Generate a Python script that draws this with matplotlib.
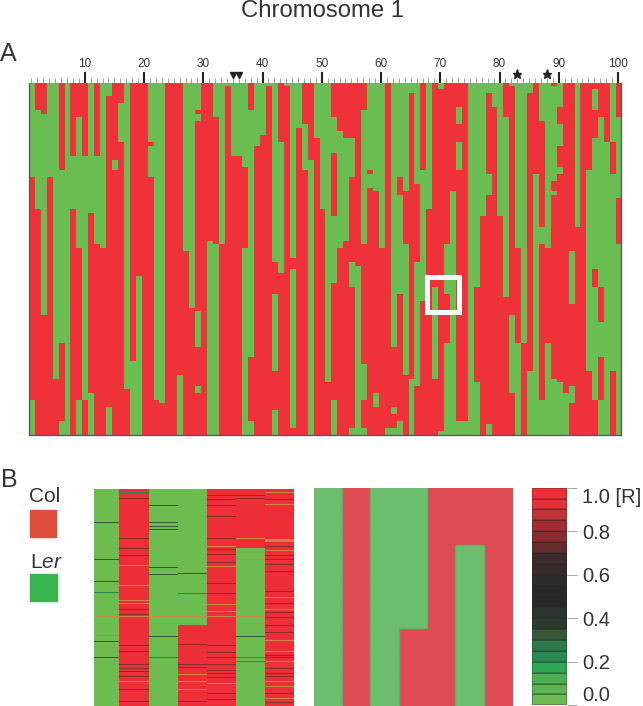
import numpy as np
import matplotlib
matplotlib.use("Agg")
import matplotlib.pyplot as plt
from matplotlib.colors import ListedColormap
from matplotlib.patches import Rectangle

plt.rcParams["font.family"] = ["Liberation Sans", "DejaVu Sans"]
plt.rcParams["mathtext.fontset"] = "custom"
plt.rcParams["mathtext.it"] = "Liberation Sans:italic"
plt.rcParams["mathtext.rm"] = "Liberation Sans"

W, H = 643, 706
RED = "#EF3239"
GREEN = "#6ABD50"
TEXT = "#333333"

# panel A: first genotype of each marker, then the rows where it flips
col_first = list("GRRGGRGRRR" "GRGGRRGRRR" "GGGRRRGGGR" "RGGGGGGRGG"
                 "GGRGGGRRGG" "GRRRRRRGGG" "RGGGGGRGRG" "RRRRGGGGGG"
                 "RGGGGRGGRG" "RRGRRRRRGR")
col_breaks = [
    [27, 90], [8, 36], [9, 66], [27], [84], [25, 74, 96], [], [21, 36],
    [10, 47, 90], [21, 90], [37, 88], [21, 46], [47], [4, 92], [22, 25],
    [6, 17], [87], [79], [55], [], [17, 18, 27], [90], [91], [], [],
    [83], [48], [64], [8, 9, 11, 65, 75, 86, 88], [], [45], [10, 46], [46],
    [1], [21], [21], [24, 47], [8, 78, 96], [18], [15], [1],
    [51, 60, 82, 93], [17, 54], [1], [50, 53, 98], [13], [12, 25], [22], [16],
    [36], [85], [10, 20, 38, 57, 90], [14, 47], [16, 45], [16, 27, 51, 58, 98],
    [52], [8, 46, 80, 90, 98], [25, 26, 30], [31, 88, 92], [47], [98],
    [75, 92, 94, 98], [27, 32, 60, 96], [31, 46, 83], [3, 84], [29, 51, 86],
    [25, 62], [36], [58, 84], [2, 99], [46, 60, 74], [31], [7, 12, 17, 25, 96],
    [96], [], [58, 85], [38], [3, 26, 32, 97], [7], [38], [10, 61],
    [1, 66, 88], [47, 74], [74], [3, 82], [26], [11, 41, 46, 90], [47, 74],
    [1, 28, 31, 32, 84], [7, 12, 18, 24, 26, 85], [88], [48, 63, 86, 91], [41],
    [], [25, 82], [2, 8, 16, 53, 58, 90], [10, 58, 68, 78, 90], [17],
    [17, 26, 82], [10, 33, 46],
]
marker_labels = [10, 20, 30, 40, 50, 60, 70, 80, 90, 100]
triangle_markers = [35, 36]
star_markers = [83, 88]

# panel B, left: the zoomed window with noisy rows
zoom_first = list("GRGGRRR")
zoom_breaks = [[], [], [], [136], [], [59], []]
zoom_edges = [0, 25.3, 54.7, 83.7, 113, 142, 171.3, 200]
zoom_dark = [
    [33, 70, 92, 152, 168],
    [9, 49, 59, 66, 120, 125, 156, 162, 175, 179, 182, 187, 200, 212],
    [16, 33, 37, 40, 78, 85, 147],
    [84, 155, 175, 178, 212],
    [6, 10, 16, 27, 49, 60, 65, 73, 94, 104, 156, 163, 168, 175, 181, 184, 188, 204, 210],
    [6, 9, 147],
    [10, 57, 66, 70, 75, 82, 102, 114, 123, 128, 136, 143, 166, 168, 179, 184, 187, 204, 213],
]
zoom_soft = [[103], [3], [168], [104], [], [168, 172], [28]]
zoom_orange = [
    [127, 146, 172],
    [76, 96, 111, 114, 127, 192],
    [127],
    [127, 185, 192, 200],
    [57, 77, 115, 122, 127, 194],
    [49, 70, 127],
    [3, 15, 50, 51, 52, 61, 108, 120, 151, 162, 172, 192, 197, 209],
]

# panel B, right: the same window, averaged
mean_first = list("GRGGRRR")
mean_breaks = [[], [], [], [64], [], [26], []]

legend_ticks = [0.0, 0.2, 0.4, 0.6, 0.8, 1.0]
ramp_colors = ["#6CBC4F", "#5BB550", "#4CB050", "#2BA755", "#278A50", "#2C7A4A",
               "#365738", "#2E3A30", "#2E3330", "#282828", "#282828", "#2B2B2B",
               "#382A2C", "#3F2A2C", "#652B2C", "#8B2A2F", "#A32C33", "#BF3236",
               "#E82E36", "#EE2E36"]


def pixel_axes(fig, left, top, right, bottom):
    return fig.add_axes([left / W, 1 - bottom / H, (right - left) / W,
                         (bottom - top) / H])


def build_matrix(first, breaks, n_rows):
    mat = np.zeros((n_rows, len(first)))
    for c, (start, flips) in enumerate(zip(first, breaks)):
        edges = [0] + flips + [n_rows]
        val = 1 if start == "R" else 0
        for a, b in zip(edges[:-1], edges[1:]):
            mat[a:b, c] = val
            val = 1 - val
    return mat


def draw_panel_a(ax):
    mat = build_matrix(col_first, col_breaks, 100)
    ax.imshow(mat, cmap=ListedColormap([GREEN, RED]), aspect="auto",
              interpolation="nearest", extent=[0.5, 100.5, 100, 0])
    ax.set_xlim(0.5, 100.5)
    ax.set_ylim(100, 0)
    ax.set_yticks([])
    ax.xaxis.tick_top()
    ax.set_xticks(marker_labels)
    ax.set_xticklabels(marker_labels, fontsize=8.5, color=TEXT)
    ax.set_xticks(np.arange(1, 101), minor=True)
    ax.tick_params(axis="x", which="major", length=8, width=1.5, color="#222222", pad=1.5)
    ax.tick_params(axis="x", which="minor", length=3.6, width=0.5, color="#777777")
    for spine in ax.spines.values():
        spine.set_color("#555555")
        spine.set_linewidth(0.9)
    ax.spines["top"].set_visible(False)
    ax.plot(triangle_markers, [-2.4] * 2, "v", color="#222222", ms=5, clip_on=False)
    ax.plot(star_markers, [-2.6] * 2, "*", color="#222222", ms=6.5, clip_on=False)
    ax.add_patch(Rectangle((67.8, 55), 5.4, 10, fill=False, edgecolor="white", lw=3.6))


def draw_zoom(ax):
    mat = build_matrix(zoom_first, zoom_breaks, 217)
    base = mat.copy()
    for c in range(7):
        for r in zoom_dark[c]:
            mat[r, c] = 0.78 if base[r, c] == 1 else 0.33
        mat[zoom_soft[c], c] = 0.22
        mat[zoom_orange[c], c] = -1
    cmap = ListedColormap(ramp_colors)
    cmap.set_under("#C58A3C")
    ax.pcolormesh(zoom_edges, np.arange(218), mat, cmap=cmap, vmin=0, vmax=1,
                  antialiased=False)
    ax.set_ylim(217, 0)
    ax.axis("off")


def draw_mean(ax):
    mat = build_matrix(mean_first, mean_breaks, 100)
    ax.imshow(mat, cmap=ListedColormap(["#6DBE6E", "#DF4B53"]), aspect="auto",
              interpolation="nearest", extent=[0, 7, 100, 0])
    # thin seam wherever green meets red
    for r in range(100):
        for c in np.nonzero(np.diff(mat[r]))[0]:
            ax.plot([c + 1, c + 1], [r, r + 1], color="#52BB6C", lw=1, solid_capstyle="butt")
    for c in range(7):
        for r in np.nonzero(np.diff(mat[:, c]))[0]:
            ax.plot([c, c + 1], [r + 1, r + 1], color="#52BB6C", lw=1, solid_capstyle="butt")
    ax.set_xlim(0, 7)
    ax.set_ylim(100, 0)
    ax.axis("off")


def draw_ramp(ax):
    levels = np.linspace(0, 1, len(ramp_colors) + 1)
    ax.pcolormesh([0, 1], levels, np.arange(len(ramp_colors)).reshape(-1, 1),
                  cmap=ListedColormap(ramp_colors), edgecolors=(0.15, 0.15, 0.15, 0.3),
                  linewidth=0.3)
    ax.set_xticks([])
    ax.yaxis.tick_right()
    ax.set_ylim(0, 1)
    ax.set_yticks(legend_ticks)
    labels = ax.set_yticklabels(["0.0", "0.2", "0.4", "0.6", "0.8", "1.0 [R]"],
                                fontsize=14.5, color=TEXT)
    labels[0].set_va("bottom")
    labels[-1].set_va("top")
    ax.tick_params(axis="y", length=7.2, width=0.6, color="#999999", pad=4)
    for spine in ax.spines.values():
        spine.set_visible(False)


def add_text(fig, x, y, s, **kw):
    fig.text(x / W, 1 - y / H, s, color=TEXT, va="center", **kw)


if __name__ == "__main__":
    fig = plt.figure(figsize=(W / 100, H / 100), dpi=100)
    draw_panel_a(pixel_axes(fig, 28.5, 83, 621, 435))
    draw_zoom(pixel_axes(fig, 94, 488.5, 294, 705.5))
    draw_mean(pixel_axes(fig, 313.5, 488, 512, 706))
    draw_ramp(pixel_axes(fig, 531.7, 487.7, 566.7, 705.3))

    add_text(fig, 322, 11, "Chromosome 1", fontsize=17.2, ha="center")
    add_text(fig, 8.5, 54, "A", fontsize=18, ha="center")
    add_text(fig, 9, 480, "B", fontsize=18, ha="center")
    add_text(fig, 45, 496, "Col", fontsize=15, ha="center")
    add_text(fig, 46, 562, r"L$\mathit{er}$", fontsize=15, ha="center")
    fig.add_artist(Rectangle((30 / W, 1 - 537 / H), 26 / W, 27 / H, color="#DE4E3C"))
    fig.add_artist(Rectangle((30 / W, 1 - 601 / H), 27 / W, 27 / H, color="#39B54F"))
    fig.savefig("out.png", dpi=100)
